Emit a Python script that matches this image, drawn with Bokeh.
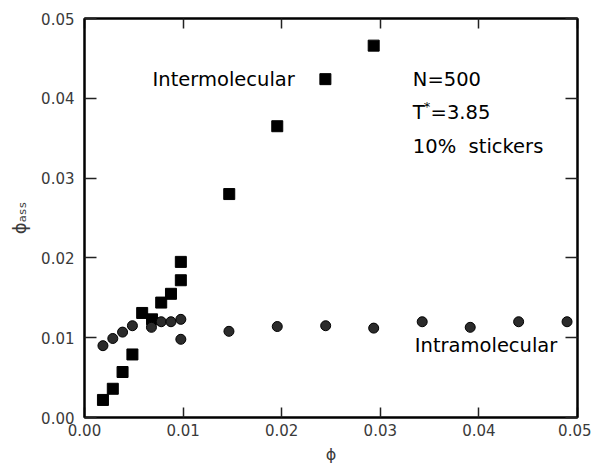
from bokeh.plotting import figure
from bokeh.models import Range1d, LinearAxis, Label, FixedTicker
from bokeh.embed import file_html
from bokeh.resources import INLINE

# Intermolecular (squares)
inter_phi = [0.00187, 0.00287, 0.00386, 0.00486, 0.00585, 0.00685, 0.00778, 0.00877,
             0.00977, 0.00977, 0.01468, 0.01955, 0.02443, 0.02933]
inter_ass = [0.0022, 0.0036, 0.0057, 0.0079, 0.0131, 0.0123, 0.0144, 0.0155,
             0.0172, 0.0195, 0.0280, 0.0365, 0.0424, 0.0466]

# Intramolecular (circles)
intra_phi = [0.00187, 0.00287, 0.00386, 0.00486, 0.00679, 0.00778, 0.00877, 0.00977,
             0.00977, 0.01465, 0.01955, 0.02446, 0.02933, 0.03425, 0.03912, 0.04403, 0.04894]
intra_ass = [0.0090, 0.0099, 0.0107, 0.0115, 0.0113, 0.0120, 0.0120, 0.0123,
             0.0098, 0.0108, 0.0114, 0.0115, 0.0112, 0.0120, 0.0113, 0.0120, 0.0120]

ticks = [0.0, 0.01, 0.02, 0.03, 0.04, 0.05]
tick_labels = {0.0: "0.00", 0.01: "0.01", 0.02: "0.02", 0.03: "0.03", 0.04: "0.04", 0.05: "0.05"}

FONT = "DejaVu Sans"

p = figure(width=591, height=466, output_backend="svg", toolbar_location=None,
           x_range=Range1d(0, 0.05), y_range=Range1d(0, 0.05),
           min_border_left=84, min_border_right=14, min_border_top=18, min_border_bottom=46)
p.xgrid.visible = False
p.ygrid.visible = False
p.outline_line_color = "black"
p.outline_line_width = 2
p.background_fill_color = "white"
p.border_fill_color = "white"

def style(ax, show_labels=True):
    ax.ticker = FixedTicker(ticks=ticks)
    ax.major_label_overrides = tick_labels
    ax.major_tick_in = 12
    ax.major_tick_out = 0
    ax.minor_tick_in = 0
    ax.minor_tick_out = 0
    ax.axis_line_color = "black"
    ax.axis_line_width = 2
    ax.major_tick_line_color = "#222222"
    ax.major_tick_line_width = 1.5
    ax.major_label_text_font = FONT
    ax.major_label_text_font_size = "15px"
    ax.major_label_text_color = "#3a3a3a"
    if not show_labels:
        ax.major_label_text_font_size = "0px"
        ax.major_label_text_alpha = 0

for ax in p.xaxis + p.yaxis:
    style(ax)
p.xaxis.major_tick_in = 10
p.xaxis.major_label_standoff = 6
p.yaxis.major_label_standoff = 10

p.xaxis.axis_label = "ϕ"
p.xaxis.axis_label_text_font = FONT
p.xaxis.axis_label_text_font_style = "normal"
p.xaxis.axis_label_text_font_size = "16px"
p.xaxis.axis_label_text_color = "#3a3a3a"
p.xaxis.axis_label_standoff = 6

p.yaxis.axis_label = "ϕₐₛₛ"
p.yaxis.axis_label_text_font = FONT
p.yaxis.axis_label_text_font_style = "normal"
p.yaxis.axis_label_text_font_size = "18px"
p.yaxis.axis_label_text_color = "#3a3a3a"
p.yaxis.axis_label_standoff = 8

top = LinearAxis()
right = LinearAxis()
style(top, False)
style(right, False)
top.major_tick_in = 10
p.add_layout(top, "above")
p.add_layout(right, "right")

p.scatter(inter_phi, inter_ass, marker="square", size=11, fill_color="black", line_color="black")
p.scatter(intra_phi, intra_ass, marker="circle", size=10, fill_color="#2b2b2b", line_color="black")

def lab(x, y, text, size="19.5px"):
    p.add_layout(Label(x=x, y=y, text=text, text_font=FONT, text_font_size=size,
                       text_color="black", text_baseline="middle"))

lab(0.0069, 0.0423, "Intermolecular")
lab(0.0333, 0.0423, "N=500")
lab(0.0333, 0.0382, "T")
lab(0.0333, 0.0340, "10%\u00a0\u00a0stickers")
lab(0.0335, 0.0090, "Intramolecular")
p.add_layout(Label(x=0.0344, y=0.0390, text="*", text_font=FONT, text_font_size="13px",
                   text_color="black", text_baseline="middle"))
p.add_layout(Label(x=0.0351, y=0.0382, text="=3.85", text_font=FONT, text_font_size="19.5px",
                   text_color="black", text_baseline="middle"))

open("out.html", "w").write(file_html(p, INLINE))
